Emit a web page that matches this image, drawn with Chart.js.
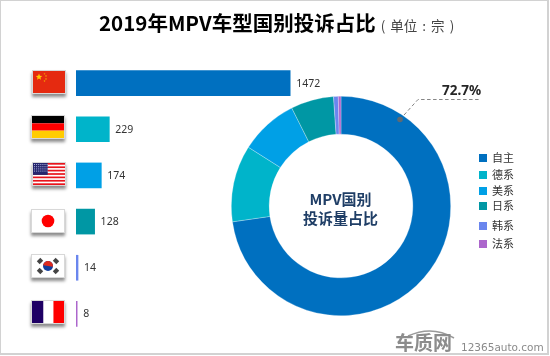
<!DOCTYPE html>
<html>
<head>
<meta charset="utf-8">
<script src="https://cdn.jsdelivr.net/npm/chart.js@4"></script>
<style>
  html, body { margin: 0; padding: 0; background: #fff; }
  #frame { position: absolute; left: 0; top: 0; width: 550px; height: 356px; overflow: hidden; }
  #border { position: absolute; left: 0; top: 0; width: 546px; height: 352px; border: 1px solid #d2d2d2; border-right-width: 2px; border-bottom-width: 2px; }
  #barWrap { position: absolute; left: 76px; top: 60px; width: 291px; height: 277px; }
  #pieWrap { position: absolute; left: 230.5px; top: 96px; width: 220px; height: 220px; }
  #overlay { position: absolute; left: 0; top: 0; }
  .title { position: absolute; top: 6px; left: 99px; white-space: nowrap; font-family: "Noto Sans CJK SC"; font-weight: 700; font-size: 20.5px; line-height: 32px; color: #000; }
  .unit { font-weight: 400; font-size: 13.5px; color: #444; margin-left: 5px; word-spacing: 2px; }
  .centerText { position: absolute; left: 290px; top: 190px; width: 101px; text-align: center; font-family: "Noto Sans CJK SC"; font-weight: 700; font-size: 15px; line-height: 18.5px; color: #1f3e66; }
  .pct { position: absolute; left: 442px; top: 80px; font-family: "Noto Sans", sans-serif; font-weight: 700; font-size: 13.5px; line-height: 20px; color: #262626; }
  .mark { position: absolute; white-space: nowrap; }
</style>
</head>
<body>
<div id="frame">
  <div id="barWrap"><canvas id="barChart"></canvas></div>
  <div id="pieWrap"><canvas id="pieChart"></canvas></div>
  <canvas id="overlay" width="550" height="356"></canvas>
  <div id="border"></div>
  <div class="title">2019年MPV车型国别投诉占比<span class="unit">( 单位 : 宗 )</span></div>
  <div class="centerText">MPV国别<br>投诉量占比</div>
  <div class="pct">72.7%</div>
  <div class="mark" style="left:395px;top:331px;font:700 19px/22px 'Noto Sans CJK SC';color:#8c8c8c;">车质网</div>
  <div class="mark" style="left:461px;top:340px;font:400 10.5px/14px 'DejaVu Sans';color:#8a8a8a;">12365auto.com</div>
</div>
<script>
const categories = ['自主', '德系', '美系', '日系', '韩系', '法系'];
const complaints = [1472, 229, 174, 128, 14, 8];
const colors = ['#0070C0', '#00B4CA', '#00A0E6', '#0097A4', '#6A86EE', '#AC66CC'];
const legendRows = [158, 175, 191, 206, 226, 244];
const flagLeft = [33, 32, 33, 32, 32, 32];
const flagTop = [71, 116, 163, 210, 255, 301];

// value labels at the end of each bar
const barLabels = {
  id: 'barLabels',
  afterDatasetsDraw(chart) {
    const ctx = chart.ctx;
    const meta = chart.getDatasetMeta(0);
    ctx.save();
    ctx.font = '10.5px "Noto Sans"';
    ctx.fillStyle = '#333';
    ctx.textBaseline = 'middle';
    meta.data.forEach((bar, i) => {
      ctx.fillText(complaints[i], bar.x + 6, bar.y + 0.5);
    });
    ctx.restore();
  }
};

const barChart = new Chart(document.getElementById('barChart'), {
  type: 'bar',
  data: {
    labels: categories,
    datasets: [{
      data: complaints,
      backgroundColor: colors,
      barThickness: 25,
      minBarLength: 1
    }]
  },
  options: {
    indexAxis: 'y',
    responsive: true,
    maintainAspectRatio: false,
    animation: false,
    layout: { padding: 0 },
    scales: {
      x: { display: false, min: 0, max: 2000 },
      y: { display: false }
    },
    plugins: { legend: { display: false }, tooltip: { enabled: false } }
  },
  plugins: [barLabels]
});

const pieChart = new Chart(document.getElementById('pieChart'), {
  type: 'doughnut',
  data: {
    labels: categories,
    datasets: [{
      data: complaints,
      backgroundColor: colors,
      borderColor: 'rgba(255,255,255,0.45)',
      borderWidth: 0.6
    }]
  },
  options: {
    responsive: true,
    maintainAspectRatio: false,
    animation: false,
    cutout: '65.5%',
    layout: { padding: 0 },
    plugins: { legend: { display: false }, tooltip: { enabled: false } }
  }
});

// flags, legend, leader line and the watermark arc go on a plain canvas on top
const ctx = document.getElementById('overlay').getContext('2d');

function flagBase(x, y, w, h) {
  ctx.save();
  ctx.shadowColor = 'rgba(0,0,0,0.45)';
  ctx.shadowBlur = 3;
  ctx.shadowOffsetY = 3;
  ctx.fillStyle = '#fff';
  ctx.fillRect(x - 1, y - 1, w + 2, h + 2);
  ctx.restore();
  ctx.strokeStyle = '#d8d8d8';
  ctx.lineWidth = 1;
  ctx.strokeRect(x - 0.5, y - 0.5, w + 1, h + 1);
}

function star(x, y, r, color) {
  ctx.fillStyle = color;
  ctx.beginPath();
  for (let i = 0; i < 10; i++) {
    const a = -Math.PI / 2 + i * Math.PI / 5;
    const d = i % 2 ? r * 0.45 : r;
    ctx.lineTo(x + Math.cos(a) * d, y + Math.sin(a) * d);
  }
  ctx.closePath();
  ctx.fill();
}

const flags = [
  (x, y, w, h) => {
    ctx.fillStyle = '#E52A10';
    ctx.fillRect(x, y, w, h);
    star(x + 6, y + 6, 3.4, '#FFC800');
    [[11.5, 2.8], [13, 5], [13, 8], [11.5, 10]].forEach(p => star(x + p[0], y + p[1], 1.1, '#F2A000'));
  },
  (x, y, w, h) => {
    ctx.fillStyle = '#000';
    ctx.fillRect(x, y, w, h / 3);
    ctx.fillStyle = '#F00';
    ctx.fillRect(x, y + h / 3, w, h / 3);
    ctx.fillStyle = '#FFCC00';
    ctx.fillRect(x, y + 2 * h / 3, w, h / 3);
  },
  (x, y, w, h) => {
    ctx.fillStyle = '#fff';
    ctx.fillRect(x, y, w, h);
    ctx.fillStyle = '#E8141C';
    for (let i = 0; i < 7; i++) ctx.fillRect(x, y + i * h / 6.5, w, h / 13);
    ctx.fillStyle = '#26266E';
    ctx.fillRect(x, y, w * 0.46, h * 0.54);
    ctx.fillStyle = '#AEB4DC';
    for (let r = 0; r < 4; r++) for (let c = 0; c < 7; c++) ctx.fillRect(x + 1 + c * 2.1, y + 1 + r * 2.2, 1, 1);
  },
  (x, y, w, h) => {
    ctx.fillStyle = '#fff';
    ctx.fillRect(x, y, w, h);
    ctx.fillStyle = '#FF0000';
    ctx.beginPath();
    ctx.arc(x + w / 2, y + h / 2, 6.3, 0, Math.PI * 2);
    ctx.fill();
  },
  (x, y, w, h) => {
    ctx.fillStyle = '#fff';
    ctx.fillRect(x, y, w, h);
    const cx = x + w / 2, cy = y + h / 2;
    ctx.fillStyle = '#0F3C9C';
    ctx.beginPath();
    ctx.arc(cx, cy, 5, 0, Math.PI * 2);
    ctx.fill();
    ctx.fillStyle = '#DC2A1E';
    ctx.beginPath();
    ctx.arc(cx, cy, 5, Math.PI * 1.05, Math.PI * 0.05);
    ctx.fill();
    ctx.fillStyle = '#444';
    [[-8, -5], [8, -5], [-8, 5], [8, 5]].forEach(p => {
      ctx.save();
      ctx.translate(cx + p[0], cy + p[1]);
      ctx.rotate(p[0] * p[1] > 0 ? Math.PI / 4 : -Math.PI / 4);
      ctx.fillRect(-2, -2.5, 4, 5);
      ctx.restore();
    });
  },
  (x, y, w, h) => {
    ctx.fillStyle = '#1E0064';
    ctx.fillRect(x, y, w * 0.36, h);
    ctx.fillStyle = '#fff';
    ctx.fillRect(x + w * 0.36, y, w * 0.31, h);
    ctx.fillStyle = '#FF0000';
    ctx.fillRect(x + w * 0.67, y, w * 0.33, h);
  }
];

flags.forEach((drawFlag, i) => {
  flagBase(flagLeft[i], flagTop[i], 32, 22);
  drawFlag(flagLeft[i], flagTop[i], 32, 22);
});

// legend, rows are not evenly spaced in the original
ctx.font = '11px "Noto Sans CJK SC"';
ctx.textBaseline = 'middle';
categories.forEach((name, i) => {
  ctx.fillStyle = colors[i];
  ctx.fillRect(479, legendRows[i] - 4, 8, 8);
  ctx.fillStyle = '#333';
  ctx.fillText(name, 492, legendRows[i]);
});

// leader line to the 72.7% label
const arc = pieChart.getDatasetMeta(0).data[0];
const wrap = pieChart.canvas.parentNode;
const dotX = wrap.offsetLeft + arc.x + 59;
const dotY = wrap.offsetTop + arc.y - 86.5;
ctx.strokeStyle = '#666';
ctx.lineWidth = 0.8;
ctx.setLineDash([3.5, 2.5]);
ctx.beginPath();
ctx.moveTo(dotX, dotY);
ctx.lineTo(418, 99.5);
ctx.lineTo(479, 99.5);
ctx.stroke();
ctx.setLineDash([]);
ctx.fillStyle = '#5f6a72';
ctx.beginPath();
ctx.arc(dotX, dotY, 2.8, 0, Math.PI * 2);
ctx.fill();

// watermark arc
ctx.strokeStyle = '#9a9a9a';
ctx.lineWidth = 1.5;
ctx.beginPath();
ctx.moveTo(408, 336);
ctx.quadraticCurveTo(432, 325, 454, 338);
ctx.stroke();
</script>
</body>
</html>
